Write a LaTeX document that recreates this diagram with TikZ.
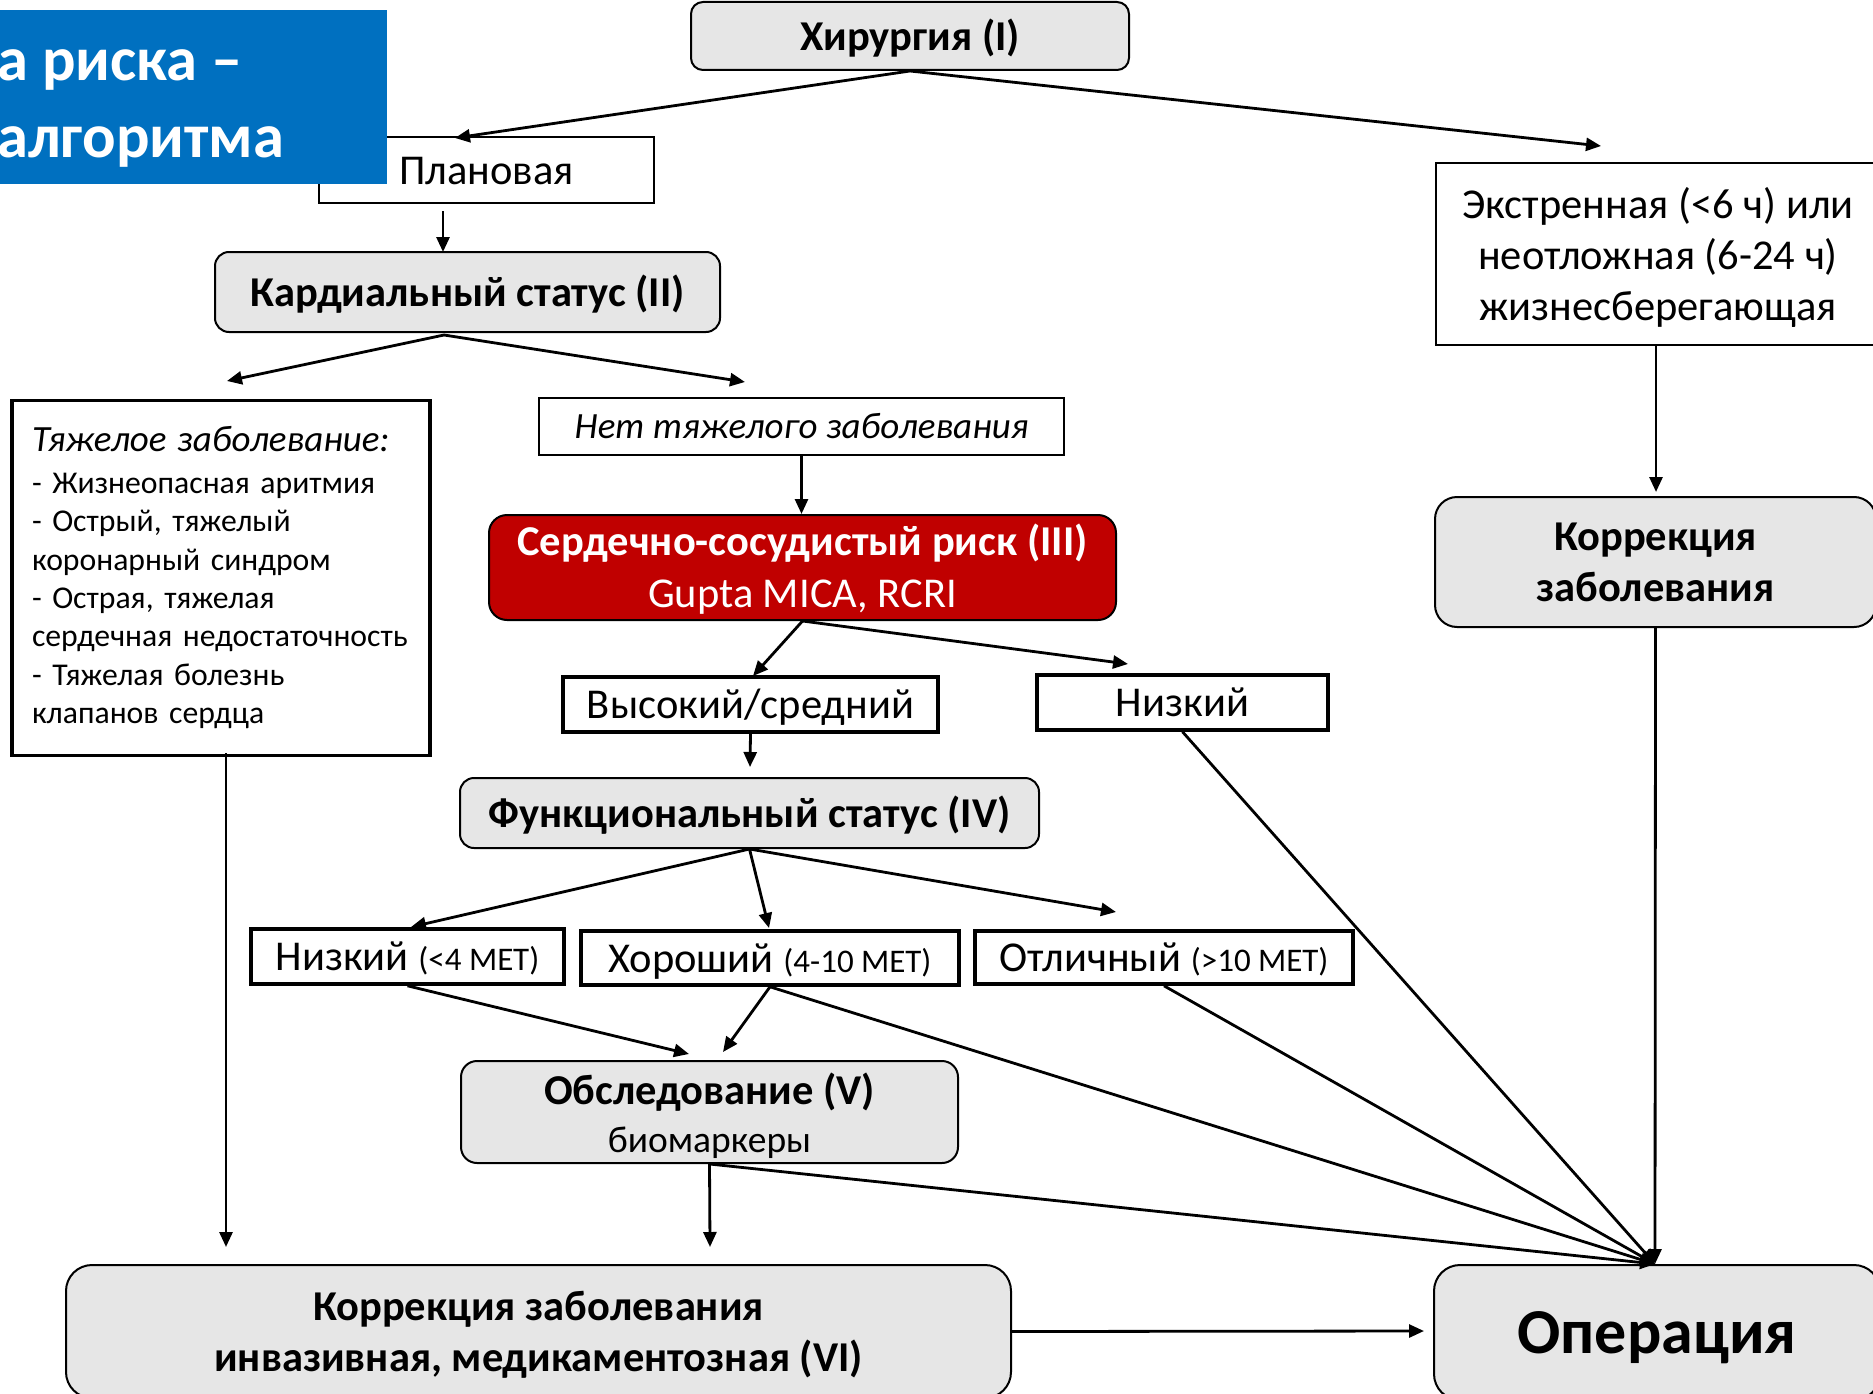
\documentclass[tikz,border=0pt]{standalone}
\usepackage{fontspec}
\setmainfont{Carlito}
\usetikzlibrary{arrows.meta,calc}
\definecolor{boxgray}{HTML}{E6E6E6}
\definecolor{riskred}{HTML}{C00000}
\definecolor{titleblue}{HTML}{0070C0}
\newcommand\pwst{\rule[-0.25em]{0pt}{1.16em}}
\newcommand\pwstb{\rule[-0.25em]{0pt}{1.24em}}
\begin{document}
\begin{tikzpicture}[x=1pt,y=-1pt,
  arr/.style={line width=2.8pt,-{Triangle[length=15pt,width=13pt]}},
  nbase/.style={inner sep=0pt, align=center, text=black},
  gbox/.style={nbase, draw, line width=2pt, fill=boxgray, rounded corners=14pt},
  pbox/.style={nbase, draw, line width=2.8pt},
  tbox/.style={nbase, draw, line width=3.6pt},
  fmain/.style={font=\fontsize{42.5}{51}\selectfont},
  fbold/.style={font=\fontsize{42.5}{51}\selectfont\bfseries},
]
\useasboundingbox (0,0) rectangle (1873,1394);

% nodes
\node[gbox, fbold, minimum width=438pt, minimum height=68pt, rounded corners=12pt] (hir) at (910,36) {\pwst Хирургия (I)};
\node[pbox, fmain, minimum width=335pt, minimum height=66pt] (plan) at (486.5,170) {\pwst Плановая};
\node[nbase, fill=titleblue, minimum width=387pt, minimum height=174pt] (title) at (193.5,97) {};
\node[nbase, anchor=west, align=left, text=white, font=\fontsize{62.5}{77}\selectfont\bfseries] (titletext) at (-3,108) {а риска –\\алгоритма};
\node[gbox, fbold, minimum width=505pt, minimum height=80pt] (kard) at (467.5,292) {\pwst Кардиальный статус (II)};
\node[tbox, minimum height=355pt, text width=378pt, inner xsep=20pt, align=left, font=\fontsize{31.7}{38.4}\selectfont] (severe) at (221,578)
  {{\fontsize{37}{38.4}\selectfont\itshape\pwst Тяжелое заболевание:}\\[3pt]
   - Жизнеопасная аритмия\\
   - Острый, тяжелый\\
   коронарный синдром\\
   - Острая, тяжелая\\
   сердечная недостаточность\\
   - Тяжелая болезнь\\
   клапанов сердца\rule[-14pt]{0pt}{1pt}};
\node[pbox, minimum width=525pt, minimum height=57pt, font=\fontsize{37}{50}\selectfont\itshape] (nosev) at (801.5,426.5) {\pwst Нет тяжелого заболевания};
\node[gbox, fill=riskred, text=white, minimum width=627pt, minimum height=105pt, rounded corners=18pt, font=\fontsize{42.5}{52}\selectfont] (risk) at (802.5,567.5)
  {\pwst\textbf{Сердечно-сосудистый риск (III)}\\\pwst Gupta MICA, RCRI};
\node[tbox, fmain, minimum width=375pt, minimum height=55pt] (high) at (750.5,704.5) {\pwst Высокий/средний};
\node[tbox, fmain, minimum width=291pt, minimum height=55pt] (low) at (1182.5,702.5) {\pwst Низкий};
\node[gbox, fbold, minimum width=579pt, minimum height=70pt] (func) at (749.5,813) {\pwst Функциональный статус (IV)};
\node[tbox, fmain, minimum width=313pt, minimum height=55pt] (mlow) at (407.5,956.5) {\pwst Низкий {\fontsize{33}{40}\selectfont(<4 МЕТ)}};
\node[tbox, fmain, minimum width=378pt, minimum height=54pt] (mgood) at (770,958) {\pwst Хороший {\fontsize{33}{40}\selectfont(4-10 МЕТ)}};
\node[tbox, fmain, minimum width=378pt, minimum height=53pt] (mexc) at (1164,957.5) {\pwst Отличный {\fontsize{33}{40}\selectfont(>10 МЕТ)}};
\node[gbox, minimum width=497pt, minimum height=102pt, rounded corners=16pt, font=\fontsize{37.5}{48}\selectfont] (exam) at (709.5,1112)
  {{\fontsize{42.5}{48}\selectfont\bfseries\pwstb Обследование (V)}\\\pwst биомаркеры};
\node[pbox, fmain, minimum width=444pt, minimum height=182pt] (emerg) at (1658,254)
  {\pwstb Экстренная (<6 ч) или\\\pwst неотложная (6-24 ч)\\\pwst жизнесберегающая};
\node[gbox, fbold, minimum width=441pt, minimum height=130pt, rounded corners=22pt] (corrR) at (1655.5,562)
  {\pwst Коррекция\\\pwst заболевания};
\node[gbox, fbold, minimum width=945pt, minimum height=133pt, rounded corners=26pt] (corrVI) at (538.5,1331.5)
  {\pwst Коррекция заболевания\\\pwst инвазивная, медикаментозная (VI)};
\node[gbox, minimum width=446pt, minimum height=135pt, rounded corners=26pt, font=\fontsize{64}{70}\selectfont\bfseries] (oper) at (1657,1332.5) {\pwst Операция};

% free ends
\coordinate (planIn) at (455,138);
\coordinate (emergIn) at (1601,146);
\coordinate (planOut) at (443,211);
\coordinate (kardIn) at (443,252);
\coordinate (kardOut) at (444,335);
\coordinate (sevIn) at (227,381);
\coordinate (nosevIn) at (745,382);
\coordinate (highIn) at (753,676);
\coordinate (lowIn) at (1128,664);
\coordinate (funcIn) at (750,767);
\coordinate (mlowIn) at (411,927);
\coordinate (mgoodIn) at (769,928);
\coordinate (mexcIn) at (1116,912);
\coordinate (examInA) at (689,1054);
\coordinate (examInB) at (723,1052);
\coordinate (operIn) at (1655,1264);
\coordinate (corrVIinA) at (710,1247);
\coordinate (sevOut) at (226,753);
\coordinate (corrVIinB) at (226,1247);
\coordinate (operInL) at (1424,1331);
\coordinate (corrRIn) at (1656,492);

% connectors
\draw[arr] (hir.south) -- (planIn);
\draw[arr] (hir.south) -- (emergIn);
\draw[arr] (planOut) -- (kardIn);
\draw[arr] (kardOut) -- (sevIn);
\draw[arr] (kardOut) -- (nosevIn);
\draw[arr] (nosev.south) -- (nosev.south |- risk.north);
\draw[arr] (risk.south) -- (highIn);
\draw[arr] (risk.south) -- (lowIn);
\draw[arr] (high.south) -- (funcIn);
\draw[arr] (func.south) -- (mlowIn);
\draw[arr] (func.south) -- (mgoodIn);
\draw[arr] (func.south) -- (mexcIn);
\draw[arr] (mlow.south) -- (examInA);
\draw[arr] (mgood.south) -- (examInB);
\draw[arr] (mgood.south) -- (operIn);
\draw[arr] (mexc.south) -- (operIn);
\draw[arr] (low.south) -- (operIn);
\draw[arr] (corrR.south) -- (operIn);
\draw[arr] (exam.south) -- (operIn);
\draw[arr] (exam.south) -- (corrVIinA);
\draw[arr] (sevOut) -- (corrVIinB);
\draw[arr] (corrVI.east) -- (operInL);
\draw[arr] (emerg.south -| corrRIn) -- (corrRIn);
\end{tikzpicture}
\end{document}
